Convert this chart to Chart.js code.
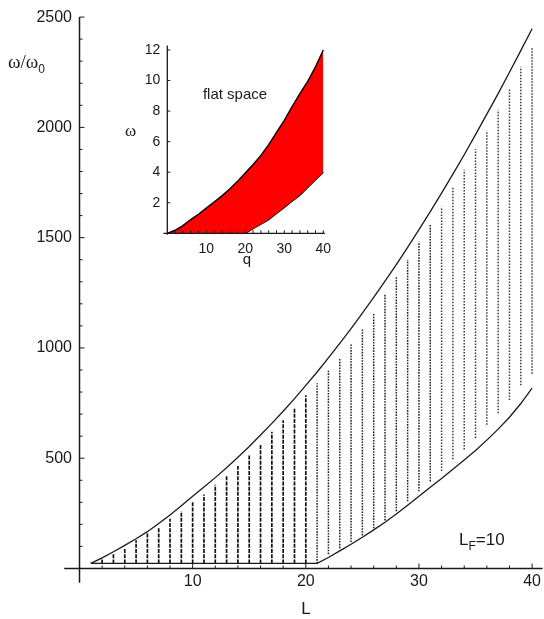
<!DOCTYPE html>
<html>
<head>
<meta charset="utf-8">
<script src="https://cdn.jsdelivr.net/npm/chart.js@4.4.0/dist/chart.umd.min.js"></script>
<style>
  html, body { margin: 0; padding: 0; background: #fff; }
  #wrap { position: relative; width: 544px; height: 619px; }
  #main { position: absolute; left: 0; top: 0; width: 544px; height: 619px; }
  #inset { position: absolute; left: 110px; top: 30px; width: 230px; height: 245px; }
</style>
</head>
<body>
<div id="wrap">
  <canvas id="main" width="544" height="619"></canvas>
  <canvas id="inset" width="230" height="245"></canvas>
</div>
<script>
// band edges, L_F = 10
const bandL = [1, 2, 3, 4, 5, 6, 7, 8, 9, 10, 11, 12, 13, 14, 15, 16, 17, 18, 19, 20,
               21, 22, 23, 24, 25, 26, 27, 28, 29, 30, 31, 32, 33, 34, 35, 36, 37, 38, 39, 40];
const upperW = [23, 48, 76, 105, 135, 167, 204, 243, 284, 328, 369, 412, 457, 504, 553, 605, 658, 713, 770, 830,
                891, 955, 1021, 1088, 1158, 1229, 1303, 1378, 1456, 1536, 1618, 1702, 1788, 1876, 1967, 2060, 2153, 2250, 2348, 2447];
const lowerL = [1, 21, 22, 23, 24, 25, 26, 27, 28, 29, 30, 31, 32, 33, 34, 35, 36, 37, 38, 39, 40];
const lowerW = [23, 23, 50, 80, 110, 142, 175, 210, 247, 287, 328, 368, 408, 450, 492, 535, 582, 632, 686, 748, 818];

// eigenvalue columns: lowest and highest level for each L
const colL = [2, 3, 4, 5, 6, 7, 8, 9, 10, 11, 12, 13, 14, 15, 16, 17, 18, 19, 20, 21,
              22, 23, 24, 25, 26, 27, 28, 29, 30, 31, 32, 33, 34, 35, 36, 37, 38, 39, 40];
const colBottom = [23, 23, 23, 23, 23, 23, 23, 23, 23, 23, 23, 23, 23, 23, 23, 23, 23, 23, 23, 23,
                   65, 92, 120, 150, 182, 218, 260, 305, 350, 395, 442, 495, 540, 592, 652, 704, 764, 831, 883];
const colTop = [44, 68, 92, 128, 160, 188, 225, 260, 300, 336, 380, 422, 465, 518, 565, 620, 672, 730, 786, 840,
                897, 955, 1018, 1085, 1160, 1245, 1326, 1400, 1482, 1557, 1640, 1729, 1808, 1901, 1986, 2080, 2178, 2275, 2364];

// flat space band
const flatQ = [0, 2, 4, 6, 8, 10, 12, 14, 16, 18, 20, 22, 24, 26, 28, 30, 32, 34, 36, 38, 40];
const flatUpper = [0, 0.2, 0.5, 0.9, 1.25, 1.65, 2.05, 2.45, 2.9, 3.4, 3.95, 4.5, 5.1, 5.8, 6.6, 7.4, 8.3, 9.15, 9.95, 10.9, 12.0];
const flatLower = [0, 0, 0, 0, 0, 0, 0, 0, 0, 0, 0, 0.3, 0.6, 0.9, 1.3, 1.7, 2.1, 2.5, 3.0, 3.5, 4.0];

const mainTicksY = [500, 1000, 1500, 2000, 2500];
const mainTicksX = [10, 20, 30, 40];
const flatTicksY = [2, 4, 6, 8, 10, 12];
const flatTicksX = [10, 20, 30, 40];

const SANS = '"Liberation Sans", Arial, Helvetica, sans-serif';
const SERIF = '"Liberation Serif", "Times New Roman", serif';

function pts(xs, ys) {
  return xs.map((v, i) => ({ x: v, y: ys[i] }));
}

// Mathematica-style axes crossing at the origin, ticks pointing inwards
function crossAxes(o) {
  return {
    id: 'crossAxes',
    afterDraw(chart) {
      const { ctx } = chart;
      const x = chart.scales.x, y = chart.scales.y;
      const x0 = x.getPixelForValue(0), y0 = y.getPixelForValue(0);
      ctx.save();
      ctx.strokeStyle = '#1a1a1a';
      ctx.lineWidth = o.axisWidth;
      ctx.beginPath();
      ctx.moveTo(x.getPixelForValue(o.xFrom), y0);
      ctx.lineTo(x.getPixelForValue(o.xTo), y0);
      ctx.moveTo(x0, y.getPixelForValue(o.yFrom));
      ctx.lineTo(x0, y.getPixelForValue(o.yTo));
      ctx.stroke();

      ctx.lineWidth = 1;
      ctx.beginPath();
      for (let k = 1; k * o.xStep <= o.xTo; k++) {
        const px = x.getPixelForValue(k * o.xStep);
        const len = (k * o.xStep) % o.xMajor === 0 ? o.major : o.minor;
        ctx.moveTo(px, y0);
        ctx.lineTo(px, y0 - len);
      }
      for (let k = 1; k * o.yStep <= o.yTo + 1e-9; k++) {
        const v = k * o.yStep;
        const py = y.getPixelForValue(v);
        const len = Math.abs(v / o.yMajor - Math.round(v / o.yMajor)) < 1e-6 ? o.major : o.minor;
        ctx.moveTo(x0, py);
        ctx.lineTo(x0 + len, py);
      }
      ctx.stroke();
      ctx.restore();
      if (o.labels) o.labels(ctx);
    }
  };
}

function text(ctx, s, x, y, font, align) {
  ctx.font = font;
  ctx.textAlign = align || 'left';
  ctx.textBaseline = 'alphabetic';
  ctx.fillText(s, x, y);
  return x + ctx.measureText(s).width;
}

// plain numbers, no thousands separator
const plain = v => String(v);

const columnSets = colL.map((L, i) => ({
  data: [{ x: L, y: colBottom[i] }, { x: L, y: colTop[i] }],
  borderColor: L <= 20 ? '#111' : (L <= 31 ? '#222' : '#3a3a3a'),
  borderWidth: L <= 20 ? 1.7 : 1.5,
  borderDash: L <= 20 ? [4, 1.2] : (L <= 31 ? [1.6, 1.2] : [1.5, 1.5]),
  pointRadius: 0,
  fill: false
}));

new Chart(document.getElementById('main'), {
  type: 'line',
  data: {
    datasets: [
      { data: pts(bandL, upperW), borderColor: '#1a1a1a', borderWidth: 1.3, pointRadius: 0, fill: false },
      { data: pts(lowerL, lowerW), borderColor: '#1a1a1a', borderWidth: 1.3, pointRadius: 0, fill: false },
      ...columnSets
    ]
  },
  options: {
    responsive: false,
    animation: false,
    layout: { padding: { top: 11.5, right: 0, left: 0, bottom: 0 } },
    plugins: { legend: { display: false }, tooltip: { enabled: false } },
    scales: {
      x: {
        type: 'linear',
        min: 0,
        max: 40.93,
        afterFit: s => { s.height = 50.5; },
        afterBuildTicks: s => { s.ticks = mainTicksX.map(v => ({ value: v })); },
        grid: { display: false, drawTicks: false },
        border: { display: false },
        ticks: { color: '#1a1a1a', font: { family: SANS, size: 16 }, padding: 3, maxRotation: 0, callback: plain }
      },
      y: {
        type: 'linear',
        min: 0,
        max: 2500,
        afterFit: s => { s.width = 79.5; },
        afterBuildTicks: s => { s.ticks = mainTicksY.map(v => ({ value: v })); },
        grid: { display: false, drawTicks: false },
        border: { display: false },
        ticks: { color: '#1a1a1a', font: { family: SANS, size: 16 }, padding: 7.5, callback: plain }
      }
    }
  },
  plugins: [crossAxes({
    axisWidth: 1.5, xFrom: -1.35, xTo: 40.93, yFrom: -65, yTo: 2500,
    xStep: 2, xMajor: 10, yStep: 100, yMajor: 500, major: 5, minor: 3,
    labels(ctx) {
      ctx.fillStyle = '#1a1a1a';
      let e = text(ctx, 'ω/ω', 8, 68, '19px ' + SERIF);
      text(ctx, '0', e, 73, '12px ' + SANS);
      text(ctx, 'L', 306, 614, '17px ' + SANS, 'center');
      e = text(ctx, 'L', 459, 545, '17px ' + SANS);
      e = text(ctx, 'F', e, 550, '12px ' + SANS);
      text(ctx, '=10', e, 545, '17px ' + SANS);
    }
  })]
});

// inset: flat space
new Chart(document.getElementById('inset'), {
  type: 'line',
  data: {
    datasets: [
      { data: pts(flatQ, flatUpper), borderColor: '#000', borderWidth: 1.4, backgroundColor: '#ff0000', fill: '+1', pointRadius: 0 },
      { data: pts(flatQ, flatLower), borderColor: '#000', borderWidth: 1.4, pointRadius: 0, fill: false }
    ]
  },
  options: {
    responsive: false,
    animation: false,
    layout: { padding: { top: 12.65, right: 15.14, left: 0, bottom: 0 } },
    plugins: { legend: { display: false }, tooltip: { enabled: false } },
    scales: {
      x: {
        type: 'linear',
        min: 0,
        max: 40.4,
        afterFit: s => { s.height = 41.7; },
        afterBuildTicks: s => { s.ticks = flatTicksX.map(v => ({ value: v })); },
        grid: { display: false, drawTicks: false },
        border: { display: false },
        ticks: { color: '#1a1a1a', font: { family: SANS, size: 14 }, padding: 7, maxRotation: 0, callback: plain }
      },
      y: {
        type: 'linear',
        min: 0,
        max: 12.3,
        afterFit: s => { s.width = 57.3; },
        afterBuildTicks: s => { s.ticks = flatTicksY.map(v => ({ value: v })); },
        grid: { display: false, drawTicks: false },
        border: { display: false },
        ticks: { color: '#1a1a1a', font: { family: SANS, size: 14 }, padding: 7, callback: plain }
      }
    }
  },
  plugins: [crossAxes({
    axisWidth: 1.3, xFrom: -1, xTo: 40.4, yFrom: -0.1, yTo: 12.3,
    xStep: 2, xMajor: 10, yStep: 2, yMajor: 2, major: 3, minor: 3,
    labels(ctx) {
      ctx.fillStyle = '#1a1a1a';
      text(ctx, 'ω', 20.5, 106, '17px ' + SERIF, 'center');
      text(ctx, 'q', 137, 234, '15px ' + SANS, 'center');
      text(ctx, 'flat space', 125, 69, '15px ' + SANS, 'center');
    }
  })]
});
</script>
</body>
</html>
